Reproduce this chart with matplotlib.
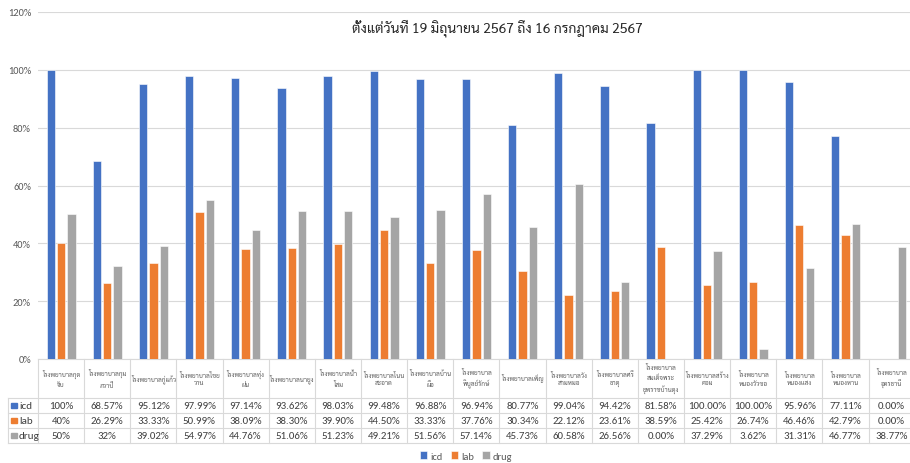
import matplotlib
matplotlib.use("Agg")
import matplotlib.pyplot as plt
import numpy as np
from matplotlib import font_manager
from matplotlib.transforms import blended_transform_factory
from matplotlib.lines import Line2D

# ---------------- data ----------------
hospitals = [
    "โรงพยาบาลกุด\nจับ",
    "โรงพยาบาลกุม\nภวาปี",
    "โรงพยาบาลกู่แก้ว",
    "โรงพยาบาลไชย\nวาน",
    "โรงพยาบาลทุ่ง\nฝน",
    "โรงพยาบาลนายูง",
    "โรงพยาบาลน้ำ\nโสม",
    "โรงพยาบาลโนน\nสะอาด",
    "โรงพยาบาลบ้าน\nผือ",
    "โรงพยาบาล\nพิบูลย์รักษ์",
    "โรงพยาบาลเพ็ญ",
    "โรงพยาบาลวัง\nสามหมอ",
    "โรงพยาบาลศรี\nธาตุ",
    "โรงพยาบาล\nสมเด็จพระ\nยุพราชบ้านดุง",
    "โรงพยาบาลสร้าง\nคอม",
    "โรงพยาบาล\nหนองวัวซอ",
    "โรงพยาบาล\nหนองแสง",
    "โรงพยาบาล\nหนองหาน",
    "โรงพยาบาล\nอุดรธานี",
]
icd = [100, 68.57, 95.12, 97.99, 97.14, 93.62, 98.03, 99.48, 96.88, 96.94,
       80.77, 99.04, 94.42, 81.58, 100.00, 100.00, 95.96, 77.11, 0.00]
lab = [40, 26.29, 33.33, 50.99, 38.09, 38.30, 39.90, 44.50, 33.33, 37.76,
       30.34, 22.12, 23.61, 38.59, 25.42, 26.74, 46.46, 42.79, 0.00]
drug = [50, 32, 39.02, 54.97, 44.76, 51.06, 51.23, 49.21, 51.56, 57.14,
        45.73, 60.58, 26.56, 0.00, 37.29, 3.62, 31.31, 46.77, 38.77]
icd_txt = ["100%", "68.57%", "95.12%", "97.99%", "97.14%", "93.62%", "98.03%", "99.48%",
           "96.88%", "96.94%", "80.77%", "99.04%", "94.42%", "81.58%", "100.00%",
           "100.00%", "95.96%", "77.11%", "0.00%"]
lab_txt = ["40%", "26.29%", "33.33%", "50.99%", "38.09%", "38.30%", "39.90%", "44.50%",
           "33.33%", "37.76%", "30.34%", "22.12%", "23.61%", "38.59%", "25.42%",
           "26.74%", "46.46%", "42.79%", "0.00%"]
drug_txt = ["50%", "32%", "39.02%", "54.97%", "44.76%", "51.06%", "51.23%", "49.21%",
            "51.56%", "57.14%", "45.73%", "60.58%", "26.56%", "0.00%", "37.29%",
            "3.62%", "31.31%", "46.77%", "38.77%"]
series_names = ["icd", "lab", "drug"]
yticks = [0, 20, 40, 60, 80, 100, 120]
subtitle = "ตั้งแต่วันที่ 19 มิถุนายน 2567 ถึง 16 กรกฎาคม 2567"

# ---------------- fonts ----------------
avail = {f.name for f in font_manager.fontManager.ttflist}
def pick(cands, default):
    for c in cands:
        if c in avail:
            return c
    return default
thai = pick(["Sarabun", "Noto Sans Thai Looped", "Noto Sans Thai", "Anuphan"], "DejaVu Sans")
latin = pick(["Carlito", "Lato", "Open Sans"], "DejaVu Sans")
plt.rcParams["font.family"] = [latin, thai, "DejaVu Sans"]
THAI = [thai, "DejaVu Sans"]

colors = ["#4472C4", "#ED7D31", "#A5A5A5"]
txtc = "#595959"
gridc = "#D9D9D9"

W, H = 910, 464
def fy(px):
    return 1 - px / H

fig = plt.figure(figsize=(W / 100, H / 100), dpi=100)
ax = fig.add_axes([38 / W, fy(360), 876.7 / W, (360 - 13) / H])

x = np.arange(len(hospitals))
bw = 0.18
off = 0.225
bars = []
for i, (vals, c) in enumerate(zip([icd, lab, drug], colors)):
    b = ax.bar(x + (i - 1) * off, vals, bw, color=c, edgecolor="white",
               linewidth=0.4, zorder=3, label=series_names[i])
    bars.append(b)

ax.set_xlim(-0.5, len(hospitals) - 0.5)
ax.set_ylim(0, 120)
ax.set_yticks(yticks)
ax.set_yticklabels([f"{t}%" for t in yticks])
ax.tick_params(axis="y", length=0, pad=5, labelsize=7.5, labelcolor=txtc)
ax.set_xticks([])
ax.grid(axis="y", color=gridc, linewidth=0.8, zorder=0)
for s in ["left", "right", "top"]:
    ax.spines[s].set_visible(False)
ax.spines["bottom"].set_color(gridc)
ax.spines["bottom"].set_linewidth(0.8)

# ---------------- data table ----------------
tr = blended_transform_factory(ax.transData, fig.transFigure)
row_y = [399, 414, 429, 444]
for k in range(len(hospitals) + 1):
    ax.add_line(Line2D([k - 0.5, k - 0.5], [fy(360), fy(444)], transform=tr,
                       color=gridc, lw=0.8, clip_on=False))
for yy in row_y:
    fig.add_artist(Line2D([8 / W, 1.0], [fy(yy), fy(yy)], color=gridc, lw=0.8))
fig.add_artist(Line2D([8 / W, 8 / W], [fy(399), fy(444)], color=gridc, lw=0.8))

for i, name in enumerate(hospitals):
    ax.text(i, fy(379), name, transform=tr, ha="center", va="center",
            fontsize=4.6, color=txtc, family=THAI, linespacing=1.6, clip_on=False)

for r, (txts, c, nm) in enumerate(zip([icd_txt, lab_txt, drug_txt], colors, series_names)):
    yc = fy((row_y[r] + row_y[r + 1]) / 2)
    for i, t in enumerate(txts):
        ax.text(i, yc, t, transform=tr, ha="center", va="center",
                fontsize=7.8, color="#404040", clip_on=False)
    fig.add_artist(plt.Rectangle((11 / W, yc - 2.7 / H), 5.5 / W, 5.5 / H,
                                 color=c, transform=fig.transFigure))
    fig.text(19 / W, yc, nm, ha="left", va="center", fontsize=8, color="#404040")

fig.legend(handles=bars, labels=series_names, loc="center",
           bbox_to_anchor=(466 / W, fy(457)), ncol=3, frameon=False,
           fontsize=7.5, handlelength=0.7, handleheight=0.7,
           columnspacing=0.8, handletextpad=0.3, labelcolor=txtc)

fig.text(497 / W, fy(28), subtitle, ha="center", va="center",
         fontsize=10, color="#262626", family=THAI)

fig.savefig("out.png", dpi=100)
